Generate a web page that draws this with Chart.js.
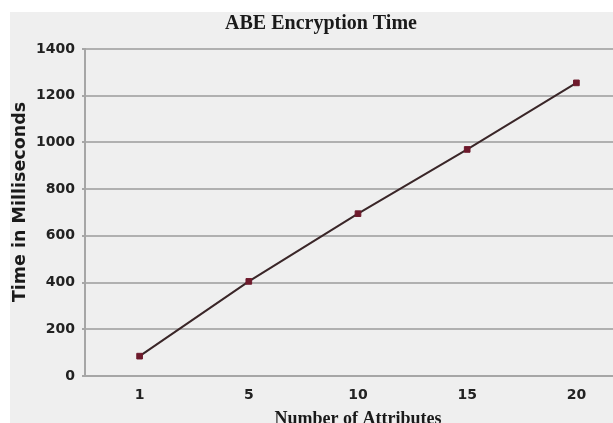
<!DOCTYPE html>
<html>
<head>
<meta charset="utf-8">
<script src="https://cdn.jsdelivr.net/npm/chart.js@4"></script>
<style>
  html, body { margin: 0; padding: 0; background: #ffffff; width: 613px; height: 423px; overflow: hidden; }
  #box { position: absolute; left: 10px; top: 12px; width: 603px; height: 411px; overflow: hidden; background: #efefef; }
  #wrap { position: absolute; left: 0; top: 0; width: 626px; height: 430px; }
</style>
</head>
<body>
<div id="box"><div id="wrap"><canvas id="c" width="626" height="430"></canvas></div></div>
<script>
const chartTitle = "ABE Encryption Time";
const xAxisTitle = "Number of Attributes";
const yAxisTitle = "Time in Milliseconds";
const categories = ["1", "5", "10", "15", "20"];
const encryptionTime = [85, 405, 695, 970, 1255];
const yTicks = [0, 200, 400, 600, 800, 1000, 1200, 1400];

const textPlugin = {
  id: 'textPlugin',
  afterDraw(chart) {
    const ctx = chart.ctx;
    const area = chart.chartArea;
    ctx.save();
    ctx.fillStyle = '#1a1a1a';
    ctx.textAlign = 'center';
    ctx.textBaseline = 'middle';
    ctx.font = 'bold 20px "Liberation Serif"';
    ctx.fillText(chartTitle, 311, 12);
    ctx.font = 'bold 18px "Liberation Serif"';
    ctx.fillText(xAxisTitle, (area.left + area.right) / 2, 407);
    ctx.translate(10, 190);
    ctx.rotate(-Math.PI / 2);
    ctx.font = 'bold 17.5px "DejaVu Sans"';
    ctx.fillText(yAxisTitle, 0, 0);
    ctx.restore();
  }
};

new Chart(document.getElementById('c'), {
  type: 'line',
  data: {
    labels: categories,
    datasets: [{
      label: 'Encryption Time',
      data: encryptionTime,
      borderColor: '#3a2628',
      borderWidth: 2,
      pointStyle: 'rect',
      pointRadius: 4,
      pointBackgroundColor: '#6e1a2c',
      pointBorderColor: '#6e1a2c',
      pointBorderWidth: 1,
      tension: 0,
      fill: false
    }]
  },
  options: {
    responsive: false,
    animation: false,
    layout: { padding: { top: 37, left: 0, right: 0, bottom: 0 } },
    plugins: { legend: { display: false }, title: { display: false }, tooltip: { enabled: false } },
    scales: {
      x: {
        type: 'category',
        offset: true,
        afterFit(scale) { scale.height = 66; },
        grid: { display: false, drawTicks: false },
        border: { display: true, color: '#a6a6a6', width: 2 },
        ticks: { color: '#222', font: { family: '"DejaVu Sans"', size: 14, weight: 'bold' }, padding: 11 }
      },
      y: {
        min: 0,
        max: 1400,
        afterFit(scale) { scale.width = 75; },
        afterBuildTicks(scale) { scale.ticks = yTicks.map(v => ({ value: v })); },
        grid: { color: '#b0b0b0', lineWidth: 2, tickLength: 3, tickColor: '#a6a6a6' },
        border: { display: true, color: '#a6a6a6', width: 2 },
        ticks: { color: '#222', font: { family: '"DejaVu Sans"', size: 14, weight: 'bold' }, padding: 7,
                 callback: (v) => String(v) }
      }
    }
  },
  plugins: [textPlugin]
});
</script>
</body>
</html>
